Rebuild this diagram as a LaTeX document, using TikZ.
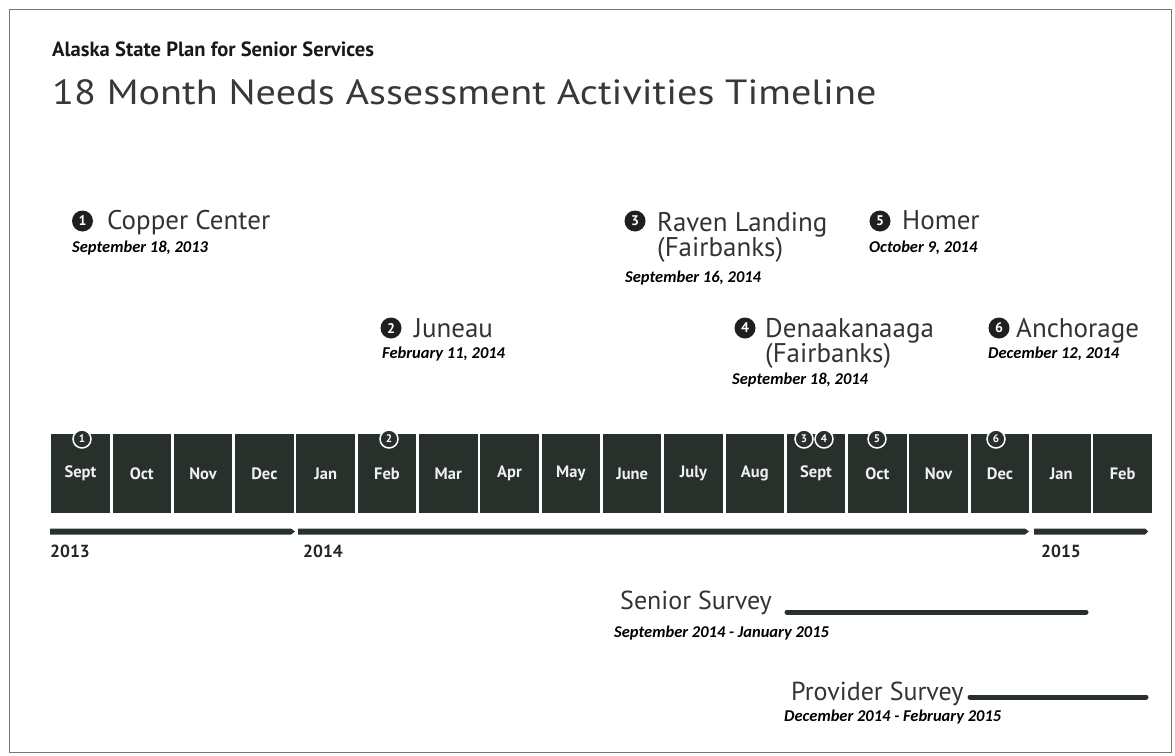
\documentclass[tikz,border=0pt]{standalone}
\usepackage{fontspec}
\setmainfont{PT Sans}
\newfontfamily\datefont{Carlito}
\definecolor{ink}{HTML}{333333}
\definecolor{boxc}{HTML}{28302B}
\definecolor{framec}{HTML}{777777}
\begin{document}
\begin{tikzpicture}[x=1pt,y=-1pt,
  month/.style={fill=boxc, draw=none, minimum width=58.5pt, minimum height=79pt, inner sep=0pt,
     text=white!88!gray, font=\fontsize{16.5}{16.5}\selectfont\bfseries, anchor=north west},
  mkr/.style={circle, fill=boxc, draw=white, line width=1.5pt, minimum size=18pt, inner sep=0pt,
     text=white, font=\fontsize{11}{11}\selectfont\bfseries},
  ev/.style={circle, fill=black!88, draw=none, minimum size=21pt, inner sep=0pt,
     text=white, font=\fontsize{14}{14}\selectfont\bfseries},
  evtext/.style={anchor=base west, inner sep=0pt, text=ink, font=\fontsize{27}{27}\selectfont},
  date/.style={anchor=base west, inner sep=0pt, text=black, font=\datefont\fontsize{16.5}{17}\selectfont\bfseries\itshape},
  year/.style={anchor=base west, inner sep=0pt, text=black!85, font=\fontsize{17.5}{17.5}\selectfont\bfseries},
  bar/.style={fill=boxc, draw=none}
]
\useasboundingbox (0,0) rectangle (1175,755);
\draw[framec, line width=1pt] (9,9) rectangle (1171,752);

% titles
\node[anchor=base west, inner sep=0pt, text=black!90, font=\fontsize{20.6}{21}\selectfont\bfseries] (t1) at (52,56) {Alaska State Plan for Senior Services};
\node[anchor=base west, inner sep=0pt, text=black!78, font=\fontsize{35}{35}\selectfont] (t2) at (52,104) {\scalebox{1.15}[1]{18 Month Needs Assessment Activities Timeline}};

% events
\node[ev] (e1) at (82.5,221) {1};
\node[evtext] (e1t) at (107,229) {Copper Center};
\node[date] (e1d) at (72,252) {September 18, 2013};

\node[ev] (e2) at (391,328) {2};
\node[evtext] (e2t) at (414,337) {Juneau};
\node[date] (e2d) at (382,358) {February 11, 2014};

\node[ev] (e3) at (635,221) {3};
\node[evtext] (e3t) at (657,231) {Raven Landing};
\node[evtext] (e3u) at (657,256) {(Fairbanks)};
\node[date] (e3d) at (625,282) {September 16, 2014};

\node[ev] (e4) at (745,328) {4};
\node[evtext] (e4t) at (765,337) {Denaakanaaga};
\node[evtext] (e4u) at (765,362) {(Fairbanks)};
\node[date] (e4d) at (732,384) {September 18, 2014};

\node[ev] (e5) at (880,221) {5};
\node[evtext] (e5t) at (902,229) {Homer};
\node[date] (e5d) at (869,252) {October 9, 2014};

\node[ev] (e6) at (999,328) {6};
\node[evtext] (e6t) at (1016,337) {Anchorage};
\node[date] (e6d) at (988,358) {December 12, 2014};

% month boxes
\foreach \m [count=\i from 0] in {Sept,Oct,Nov,Dec,Jan,Feb,Mar,Apr,May,June,July,Aug,Sept,Oct,Nov,Dec,Jan,Feb}{
  \node[month] (m\i) at ({51+61.3*\i},434) {\m};
}
% markers on boxes
\node[mkr] (k1) at (82,439) {1};
\node[mkr] (k2) at (389,439) {2};
\node[mkr] (k3) at (804,439) {3};
\node[mkr] (k4) at (824,439) {4};
\node[mkr] (k5) at (877,439) {5};
\node[mkr] (k6) at (996,439) {6};

% year bars
\fill[bar] (50,528.5) -- (291,528.5) -- (295,531.5) -- (291,534.5) -- (50,534.5) -- cycle;
\fill[bar] (298,528.5) -- (1025,528.5) -- (1029,531.5) -- (1025,534.5) -- (298,534.5) -- cycle;
\fill[bar] (1034,528.5) -- (1145,528.5) -- (1148,531.5) -- (1145,534.5) -- (1034,534.5) -- cycle;
\node[year] (y1) at (50,557) {2013};
\node[year] (y2) at (303,557) {2014};
\node[year] (y3) at (1041,557) {2015};

% surveys
\node[evtext, font=\fontsize{26}{26}\selectfont] (s1) at (620,609) {Senior Survey};
\coordinate (s1a) at (787,612);
\coordinate (s1b) at (1086,612);
\draw[boxc, line width=5pt, line cap=round] (s1a) -- (s1b);
\node[date] (s1d) at (614,637) {September 2014 - January 2015};

\node[evtext, font=\fontsize{26}{26}\selectfont] (s2) at (791,700) {Provider Survey};
\coordinate (s2a) at (970,697);
\coordinate (s2b) at (1146,697);
\draw[boxc, line width=5pt, line cap=round] (s2a) -- (s2b);
\node[date] (s2d) at (784,721) {December 2014 - February 2015};
\end{tikzpicture}
\end{document}
